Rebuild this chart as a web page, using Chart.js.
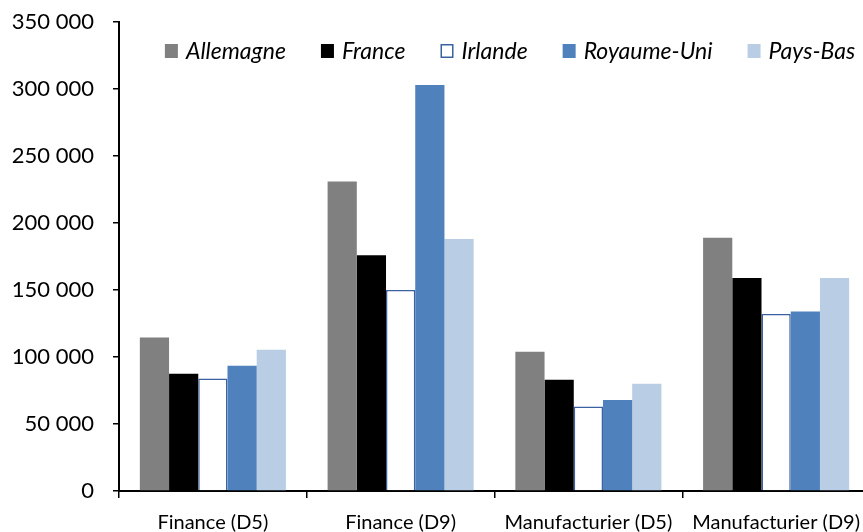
<!DOCTYPE html>
<html lang="fr">
<head>
<meta charset="utf-8">
<title>Salaires par décile</title>
<script src="https://cdn.jsdelivr.net/npm/chart.js@4.4.1/dist/chart.umd.min.js"></script>
<style>
  html, body { margin: 0; padding: 0; background: #fff; overflow: hidden; }
  #wrap { width: 863px; height: 532px; overflow: hidden; position: relative; }
  canvas { display: block; }
</style>
</head>
<body>
<div id="wrap"><canvas id="chart" width="880" height="532"></canvas></div>
<script>
// Catégories et séries
const categories = ['Finance (D5)', 'Finance (D9)', 'Manufacturier (D5)', 'Manufacturier (D9)'];
const seriesNames = ['Allemagne', 'France', 'Irlande', 'Royaume-Uni', 'Pays-Bas'];
const allemagne  = [114500, 231000, 104000, 189000];
const france     = [87500, 176000, 83000, 159000];
const irlande    = [84000, 150000, 63000, 132000];
const royaumeUni = [93500, 303000, 68000, 134000];
const paysBas    = [105500, 188000, 80000, 159000];
const yMin = 0, yMax = 350000, yStep = 50000;

const seriesValues = [allemagne, france, irlande, royaumeUni, paysBas];
const fills   = ['#808080', '#000000', '#ffffff', '#4f81bd', '#b9cde5'];
const borders = ['#808080', '#000000', '#3a62a0', '#4f81bd', '#b9cde5'];
const borderWidths = [0, 0, 1.5, 0, 0];

const fmt = v => String(v).replace(/\B(?=(\d{3})+(?!\d))/g, ' ');

// Légende dessinée dans la zone du graphique, en haut
const insideLegend = {
  id: 'insideLegend',
  afterDraw(chart) {
    const ctx = chart.ctx;
    const ds = chart.data.datasets;
    const boxW = 13, boxH = 14, textGap = 8, itemGap = 35;
    const cy = 51, centerX = 510;
    ctx.save();
    ctx.font = 'italic 23px Lato';
    ctx.textBaseline = 'middle';
    ctx.textAlign = 'left';
    const widths = ds.map(d => ctx.measureText(d.label).width);
    let total = 0;
    widths.forEach((w, i) => { total += boxW + textGap + w + (i < widths.length - 1 ? itemGap : 0); });
    let x = centerX - total / 2;
    ds.forEach((d, i) => {
      const by = cy - boxH / 2;
      ctx.fillStyle = d.backgroundColor;
      ctx.fillRect(x, by, boxW, boxH);
      if (d.borderWidth > 0) {
        ctx.strokeStyle = d.borderColor;
        ctx.lineWidth = 1.5;
        ctx.strokeRect(x + 0.75, by + 0.75, boxW - 1.5, boxH - 1.5);
      }
      ctx.fillStyle = '#000';
      ctx.fillText(d.label, x + boxW + textGap, cy + 1);
      x += boxW + textGap + widths[i] + itemGap;
    });
    ctx.restore();
  }
};

new Chart(document.getElementById('chart'), {
  type: 'bar',
  data: {
    labels: categories,
    datasets: seriesNames.map((name, i) => ({
      label: name,
      data: seriesValues[i],
      backgroundColor: fills[i],
      borderColor: borders[i],
      borderWidth: borderWidths[i],
      categoryPercentage: 0.778,
      barPercentage: 1.0
    }))
  },
  options: {
    responsive: false,
    animation: false,
    events: [],
    layout: { padding: { top: 22, right: 10, left: 0, bottom: 0 } },
    plugins: {
      legend: { display: false },
      tooltip: { enabled: false }
    },
    scales: {
      x: {
        z: 1,
        offset: true,
        grid: { display: true, drawOnChartArea: false, drawTicks: true, tickLength: 7, color: '#000', lineWidth: 1.5, offset: true },
        border: { display: true, color: '#000', width: 2 },
        ticks: { color: '#000', font: { family: 'Lato', size: 20 }, padding: 13, maxRotation: 0, autoSkip: false },
        afterFit: s => { s.height = 41; s.paddingLeft = 0; s.paddingRight = 0; }
      },
      y: {
        z: 1,
        min: yMin,
        max: yMax,
        grid: { display: true, drawOnChartArea: false, drawTicks: true, tickLength: 6, color: '#000', lineWidth: 1.5 },
        border: { display: true, color: '#000', width: 2 },
        ticks: { stepSize: yStep, color: '#000', font: { family: 'Lato', size: 22 }, padding: 19, callback: v => fmt(v) },
        afterFit: s => { s.width = 119; s.paddingTop = 0; s.paddingBottom = 0; }
      }
    }
  },
  plugins: [insideLegend]
});
</script>
</body>
</html>
